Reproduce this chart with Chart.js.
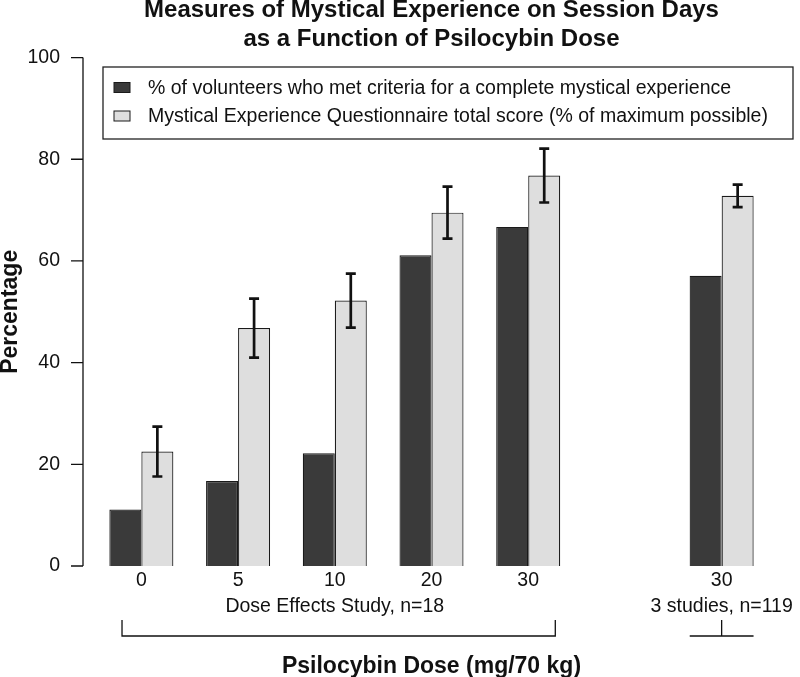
<!DOCTYPE html>
<html>
<head>
<meta charset="utf-8">
<script src="https://cdn.jsdelivr.net/npm/chart.js@4"></script>
<style>
  body { margin: 0; background: #fff; }
</style>
</head>
<body>
<canvas id="myChart" width="800" height="677"></canvas>
<script>
const doses = ["0", "5", "10", "20", "30", "", "30"];
const studyLabels = ["", "", "Dose Effects Study, n=18", "", "", "", "3 studies, n=119"];
const completeMystical = [11.1, 16.7, 22.2, 61.1, 66.7, null, 57.1];
const meqScore = [22.5, 46.8, 52.2, 69.5, 76.8, null, 72.8];
const meqError = [4.9, 5.8, 5.3, 5.1, 5.3, null, 2.2];

const ink = "#111";

// tick label plus the study name underneath where there is one
const labels = doses.map((d, i) => (studyLabels[i] ? [d, studyLabels[i]] : d));

const data = {
  labels: labels,
  datasets: [
    {
      label: "% of volunteers who met criteria for a complete mystical experience",
      data: completeMystical,
      backgroundColor: "#3a3a3a",
      borderColor: "#1a1a1a",
      borderWidth: 1.2,
      categoryPercentage: 0.662,
      barPercentage: 1.0,
    },
    {
      label: "Mystical Experience Questionnaire total score (% of maximum possible)",
      data: meqScore,
      backgroundColor: "#dedede",
      borderColor: "#1a1a1a",
      borderWidth: 1.2,
      categoryPercentage: 0.662,
      barPercentage: 1.0,
    },
  ],
};

// R style y axis, pulled left of the bars
const rAxis = {
  id: "rAxis",
  afterDraw(chart) {
    const { ctx, chartArea } = chart;
    const y = chart.scales.y;
    const x0 = chartArea.left - 10;
    ctx.save();
    ctx.strokeStyle = ink;
    ctx.lineWidth = 1.3;
    ctx.beginPath();
    ctx.moveTo(x0, y.getPixelForValue(0));
    ctx.lineTo(x0, y.getPixelForValue(100));
    y.ticks.forEach((t) => {
      const py = y.getPixelForValue(t.value);
      ctx.moveTo(x0 - 12, py);
      ctx.lineTo(x0, py);
    });
    ctx.stroke();
    ctx.restore();
  },
};

const errorBars = {
  id: "errorBars",
  afterDatasetsDraw(chart) {
    const { ctx } = chart;
    const y = chart.scales.y;
    const meta = chart.getDatasetMeta(1);
    ctx.save();
    ctx.strokeStyle = ink;
    ctx.lineWidth = 2.7;
    meqError.forEach((e, i) => {
      if (e == null) return;
      const bar = meta.data[i];
      const top = y.getPixelForValue(meqScore[i] + e);
      const bot = y.getPixelForValue(meqScore[i] - e);
      ctx.beginPath();
      ctx.moveTo(bar.x, top);
      ctx.lineTo(bar.x, bot);
      ctx.moveTo(bar.x - 5, top);
      ctx.lineTo(bar.x + 5, top);
      ctx.moveTo(bar.x - 5, bot);
      ctx.lineTo(bar.x + 5, bot);
      ctx.stroke();
    });
    ctx.restore();
  },
};

const boxLegend = {
  id: "boxLegend",
  afterDraw(chart) {
    const { ctx } = chart;
    ctx.save();
    ctx.fillStyle = "#fff";
    ctx.fillRect(103, 67, 690, 72);
    ctx.strokeStyle = "#222";
    ctx.lineWidth = 1.3;
    ctx.strokeRect(103, 67, 690, 72);
    ctx.font = "19.5px 'Liberation Sans', Arial, sans-serif";
    ctx.textBaseline = "middle";
    chart.data.datasets.forEach((ds, i) => {
      const cy = 87.5 + i * 28.5;
      ctx.fillStyle = ds.backgroundColor;
      ctx.fillRect(114, cy - 5, 16, 10);
      ctx.lineWidth = 1;
      ctx.strokeStyle = "#1a1a1a";
      ctx.strokeRect(114, cy - 5, 16, 10);
      ctx.fillStyle = ink;
      ctx.fillText(ds.label, 148, cy + 1);
    });
    ctx.restore();
  },
};

const brackets = {
  id: "brackets",
  afterDraw(chart) {
    const { ctx } = chart;
    const x = chart.scales.x;
    const slot = x.getPixelForValue(1) - x.getPixelForValue(0);
    const yLine = 636;
    const yTop = 620;
    const l1 = x.getPixelForValue(0) - 0.2 * slot;
    const r1 = x.getPixelForValue(4) + 0.28 * slot;
    const c2 = x.getPixelForValue(6);
    ctx.save();
    ctx.strokeStyle = ink;
    ctx.lineWidth = 1.3;
    ctx.beginPath();
    ctx.moveTo(l1, yTop);
    ctx.lineTo(l1, yLine);
    ctx.lineTo(r1, yLine);
    ctx.lineTo(r1, yTop);
    ctx.moveTo(c2 - 0.33 * slot, yLine);
    ctx.lineTo(c2 + 0.33 * slot, yLine);
    ctx.moveTo(c2, yTop);
    ctx.lineTo(c2, yLine);
    ctx.stroke();
    ctx.restore();
  },
};

const config = {
  type: "bar",
  data: data,
  options: {
    responsive: false,
    animation: false,
    layout: {
      padding: { left: 0, right: 30, top: 0, bottom: 0 },
    },
    plugins: {
      legend: { display: false },
      tooltip: { enabled: false },
      title: {
        display: true,
        fullSize: false,
        text: ["Measures of Mystical Experience on Session Days", "as a Function of Psilocybin Dose"],
        font: { size: 24, weight: "bold", lineHeight: 1.21 },
        color: ink,
        padding: { top: -4.5, bottom: 4 },
      },
    },
    scales: {
      x: {
        grid: { display: false, drawTicks: false },
        border: { display: false },
        ticks: {
          color: ink,
          font: { size: 19.5, lineHeight: 1.31 },
          padding: 2,
          autoSkip: false,
          maxRotation: 0,
          minRotation: 0,
        },
        title: {
          display: true,
          text: "Psilocybin Dose (mg/70 kg)",
          color: ink,
          font: { size: 23, weight: "bold", lineHeight: 1 },
          padding: { top: 0, bottom: -1 },
        },
        afterFit: (s) => {
          s.height = 111;
        },
      },
      y: {
        min: 0,
        max: 100,
        grid: { display: false, drawTicks: false },
        border: { display: false },
        ticks: {
          stepSize: 20,
          color: ink,
          font: { size: 19.5 },
          padding: 33,
        },
        title: {
          display: true,
          text: "Percentage",
          color: ink,
          font: { size: 23, weight: "bold", lineHeight: 0.9 },
          padding: { top: 0, bottom: 0 },
        },
        afterFit: (s) => {
          s.width = 93;
        },
      },
    },
  },
  plugins: [rAxis, errorBars, boxLegend, brackets],
};

Chart.defaults.font.family = "'Liberation Sans', Arial, sans-serif";
Chart.defaults.color = ink;

let myChart = new Chart(document.getElementById("myChart"), config);
</script>
</body>
</html>
